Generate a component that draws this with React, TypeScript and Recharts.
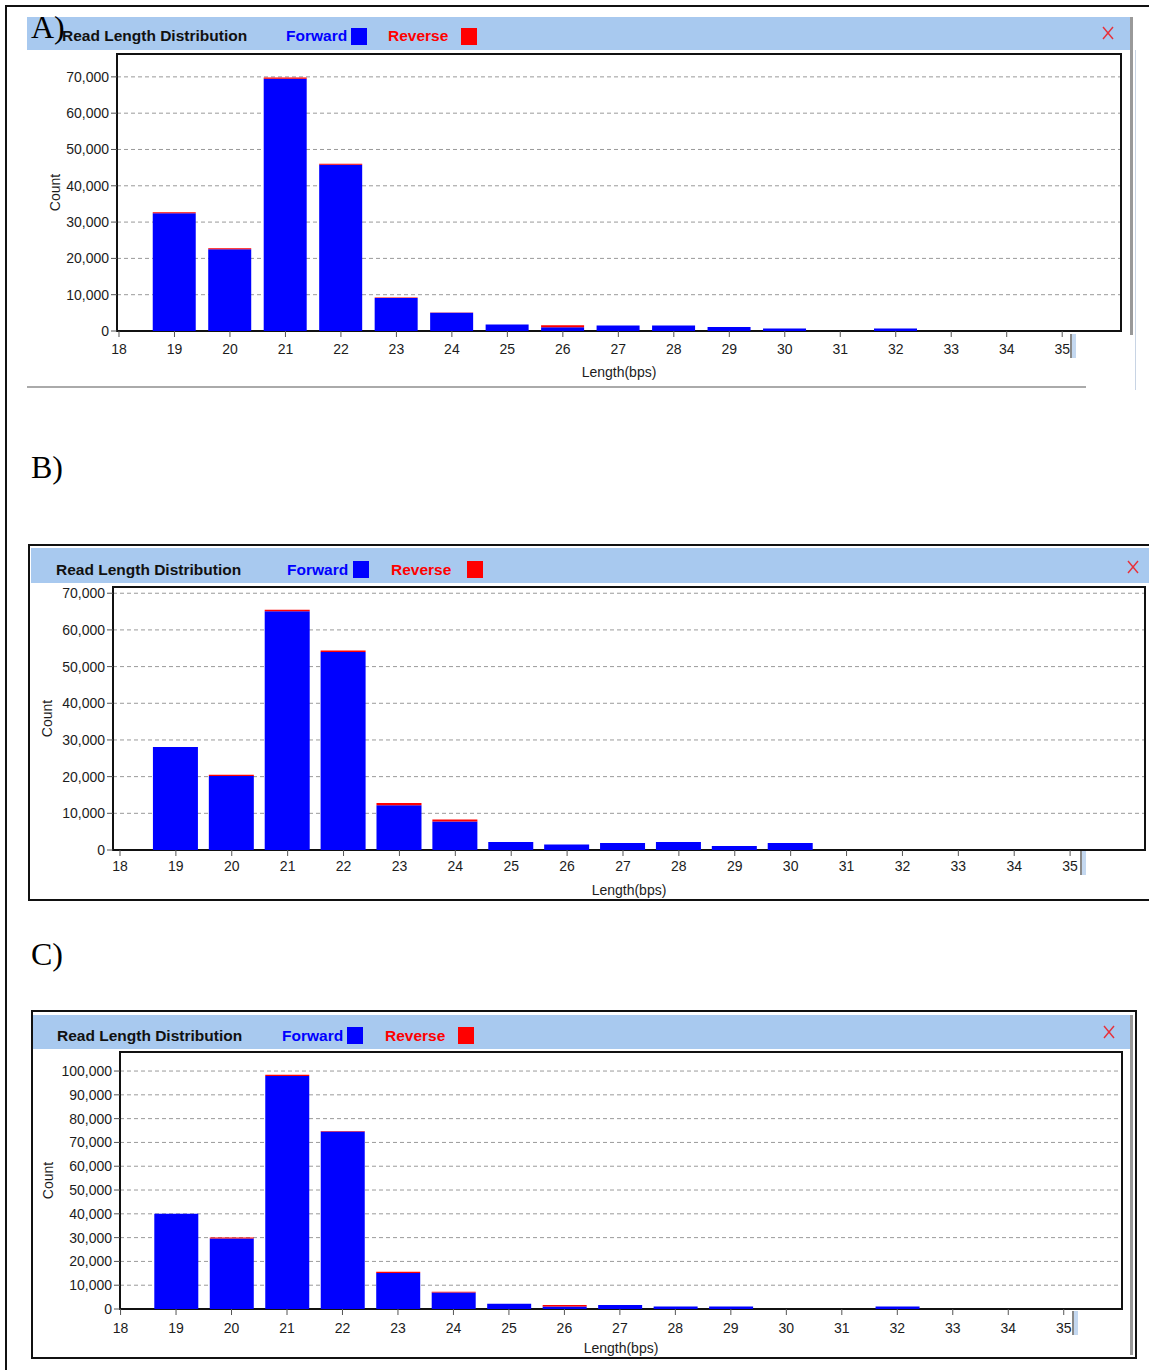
import React from 'react'
import { BarChart, Bar, XAxis, YAxis, CartesianGrid, ReferenceArea } from 'recharts'

// read lengths on the x axis
const lengths = [18, 19, 20, 21, 22, 23, 24, 25, 26, 27, 28, 29, 30, 31, 32, 33, 34, 35]

// panel A
const forwardA = [0, 32400, 22500, 69500, 45800, 9100, 5000, 1800, 1000, 1500, 1500, 1100, 700, 0, 700, 0, 0, 0]
const reverseA = [0, 300, 300, 300, 300, 100, 100, 0, 600, 0, 0, 0, 0, 0, 0, 0, 0, 0]

// panel B
const forwardB = [0, 28100, 20200, 65100, 54000, 12200, 7800, 2200, 1500, 1900, 2200, 1100, 1900, 0, 0, 0, 0, 0]
const reverseB = [0, 0, 300, 400, 400, 600, 500, 0, 0, 0, 0, 0, 0, 0, 0, 0, 0, 0]

// panel C
const forwardC = [0, 40000, 29600, 97900, 74600, 15100, 6900, 2200, 1100, 1700, 1100, 1100, 0, 0, 1100, 0, 0, 0]
const reverseC = [0, 0, 400, 500, 200, 600, 400, 0, 600, 0, 0, 0, 0, 0, 0, 0, 0, 0]

const countTicks70k = [0, 10000, 20000, 30000, 40000, 50000, 60000, 70000]
const countTicks100k = [0, 10000, 20000, 30000, 40000, 50000, 60000, 70000, 80000, 90000, 100000]

// small ticks every 0.2 bps between the labelled ones
const minorTicks = lengths.flatMap((l) => [l + 0.2, l + 0.4, l + 0.6, l + 0.8])

const FONT = '"Liberation Sans", Arial, sans-serif'
const BAND = '#a8c9ef'
const TXT = '#1c1c1c'

const toRows = (fwd: number[], rev: number[]) =>
  lengths.map((length, i) => ({ length, forward: fwd[i], reverse: rev[i] }))

type PanelProps = {
  data: { length: number; forward: number; reverse: number }[]
  yTicks: number[]
  yMax: number
  xDomain: [number, number]
  barSize: number
  plot: { left: number; top: number; right: number; bottom: number }
  countOffset: number
  lengthOffset: number
  tickGap: number
}

function Panel({ data, yTicks, yMax, xDomain, barSize, plot, countOffset, lengthOffset, tickGap }: PanelProps) {
  const YW = 90
  const XH = 54
  const width = YW + (plot.right - plot.left) + 2
  const height = 2 + (plot.bottom - plot.top) + XH
  return (
    <div style={{ position: 'absolute', left: plot.left - YW, top: plot.top - 2 }}>
      <BarChart width={width} height={height} data={data} margin={{ top: 2, right: 2, bottom: 0, left: 0 }}>
        <CartesianGrid vertical={false} stroke='#9a9a9a' strokeDasharray='4 3' />
        <XAxis
          xAxisId='minor'
          type='number'
          dataKey='length'
          domain={xDomain}
          ticks={minorTicks}
          allowDataOverflow
          height={0}
          tick={() => <g />}
          tickSize={4}
          axisLine={false}
          tickLine={{ stroke: '#333' }}
          interval={0}
        />
        <XAxis
          type='number'
          dataKey='length'
          domain={xDomain}
          ticks={lengths}
          allowDataOverflow
          interval={0}
          height={XH}
          tickSize={6}
          tickMargin={tickGap}
          axisLine={false}
          tickLine={{ stroke: '#555' }}
          tick={{ fontSize: 14, fill: TXT, fontFamily: FONT }}
          label={{
            value: 'Length(bps)',
            position: 'insideBottom',
            offset: lengthOffset,
            fontSize: 14,
            fill: TXT,
            fontFamily: FONT,
          }}
        />
        <YAxis
          type='number'
          domain={[0, yMax]}
          ticks={yTicks}
          allowDataOverflow
          interval={0}
          width={YW}
          tickSize={6}
          tickMargin={2}
          axisLine={false}
          tickLine={{ stroke: '#555' }}
          tick={{ fontSize: 14, fill: TXT, fontFamily: FONT }}
          tickFormatter={(v: number) => v.toLocaleString('en-US')}
          label={{
            value: 'Count',
            angle: -90,
            position: 'insideLeft',
            offset: countOffset,
            fontSize: 14,
            fill: TXT,
            fontFamily: FONT,
            style: { textAnchor: 'middle' },
          }}
        />
        <Bar dataKey='forward' stackId='s' fill='#0000ff' barSize={barSize} isAnimationActive={false} />
        <Bar dataKey='reverse' stackId='s' fill='#ff0000' barSize={barSize} isAnimationActive={false} />
        <ReferenceArea
          x1={xDomain[0]}
          x2={xDomain[1]}
          y1={0}
          y2={yMax}
          fill='none'
          fillOpacity={0}
          stroke='#111'
          strokeWidth={2}
          ifOverflow='visible'
        />
      </BarChart>
    </div>
  )
}

type HeaderProps = {
  band: { left: number; top: number; width: number; height: number }
  textTop: number
  titleX: number
  fwdX: number
  fwdBox: number
  revX: number
  revBox: number
  boxTop: number
  closeX: number
  closeY: number
}

function Header({ band, textTop, titleX, fwdX, fwdBox, revX, revBox, boxTop, closeX, closeY }: HeaderProps) {
  const txt: React.CSSProperties = {
    position: 'absolute',
    top: textTop,
    height: 20,
    lineHeight: '20px',
    fontSize: 15.5,
    fontWeight: 'bold',
    fontFamily: FONT,
    whiteSpace: 'nowrap',
  }
  const box = (x: number, c: string): React.CSSProperties => ({
    position: 'absolute',
    left: x,
    top: boxTop,
    width: 16,
    height: 17,
    background: c,
  })
  return (
    <>
      <div style={{ position: 'absolute', ...band, background: BAND }} />
      <div style={{ ...txt, left: titleX, color: '#111' }}>Read Length Distribution</div>
      <div style={{ ...txt, left: fwdX, color: '#0000ff' }}>Forward</div>
      <div style={box(fwdBox, '#0000ff')} />
      <div style={{ ...txt, left: revX, color: '#ff0000' }}>Reverse</div>
      <div style={box(revBox, '#ff0000')} />
      <svg style={{ position: 'absolute', left: closeX - 6, top: closeY - 7 }} width={12} height={14}>
        <line x1={1} y1={1} x2={11} y2={13} stroke='#e8303a' strokeWidth={1.4} />
        <line x1={11} y1={1} x2={1} y2={13} stroke='#e8303a' strokeWidth={1.4} />
      </svg>
    </>
  )
}

const letter = (t: string, top: number): React.ReactNode => (
  <div
    style={{
      position: 'absolute',
      left: 31,
      top,
      fontFamily: '"Liberation Serif", "Times New Roman", serif',
      fontSize: 32,
      lineHeight: '36px',
      color: '#000',
    }}
  >
    {t}
  </div>
)

const scrollMark = (x: number, top: number): React.ReactNode => (
  <>
    <div style={{ position: 'absolute', left: x, top, width: 2, height: 24, background: '#8a8a8a' }} />
    <div style={{ position: 'absolute', left: x + 2, top, width: 4, height: 24, background: '#c4d8f0' }} />
  </>
)

export default function App() {
  return (
    <div
      style={{
        position: 'absolute',
        left: 0,
        top: 0,
        width: 1149,
        height: 1370,
        overflow: 'hidden',
        background: '#fff',
      }}
    >
      {/* page frame */}
      <div style={{ position: 'absolute', left: 5, top: 5, width: 1160, height: 1380, border: '2px solid #111' }} />

      {/* A */}
      <div style={{ position: 'absolute', left: 1130, top: 17, width: 3, height: 318, background: '#999' }} />
      <div style={{ position: 'absolute', left: 1135, top: 50, width: 1, height: 340, background: '#c8d4e4' }} />
      <div style={{ position: 'absolute', left: 27, top: 386, width: 1059, height: 2, background: '#aaa' }} />
      <Header
        band={{ left: 27, top: 17, width: 1103, height: 33 }}
        textTop={26}
        titleX={62}
        fwdX={286}
        fwdBox={351}
        revX={388}
        revBox={461}
        boxTop={28}
        closeX={1108}
        closeY={33}
      />
      <Panel
        data={toRows(forwardA, reverseA)}
        yTicks={countTicks70k}
        yMax={76300}
        xDomain={[17.964, 36.06]}
        barSize={43}
        plot={{ left: 117, top: 54, right: 1121, bottom: 331 }}
        countOffset={28}
        lengthOffset={8}
        tickGap={7}
      />
      {scrollMark(1070, 334)}
      {letter('A)', 9)}

      {/* B */}
      {letter('B)', 449)}
      <div style={{ position: 'absolute', left: 28, top: 544, width: 1140, height: 353, border: '2px solid #111' }} />
      <Header
        band={{ left: 31, top: 548, width: 1118, height: 35 }}
        textTop={560}
        titleX={56}
        fwdX={287}
        fwdBox={353}
        revX={391}
        revBox={467}
        boxTop={561}
        closeX={1133}
        closeY={567}
      />
      <Panel
        data={toRows(forwardB, reverseB)}
        yTicks={countTicks70k}
        yMax={71700}
        xDomain={[17.875, 36.34]}
        barSize={45}
        plot={{ left: 113, top: 587, right: 1145, bottom: 850 }}
        countOffset={24}
        lengthOffset={9}
        tickGap={5}
      />
      {scrollMark(1080, 851)}

      {/* C */}
      {letter('C)', 936)}
      <div style={{ position: 'absolute', left: 31, top: 1010, width: 1102, height: 345, border: '2px solid #111' }} />
      <div style={{ position: 'absolute', left: 1130, top: 1015, width: 3, height: 340, background: '#999' }} />
      <Header
        band={{ left: 33, top: 1015, width: 1097, height: 34 }}
        textTop={1026}
        titleX={57}
        fwdX={282}
        fwdBox={347}
        revX={385}
        revBox={458}
        boxTop={1027}
        closeX={1109}
        closeY={1032}
      />
      <Panel
        data={toRows(forwardC, reverseC)}
        yTicks={countTicks100k}
        yMax={108000}
        xDomain={[17.99, 36.05]}
        barSize={44}
        plot={{ left: 120, top: 1052, right: 1122, bottom: 1309 }}
        countOffset={18}
        lengthOffset={10}
        tickGap={8}
      />
      {scrollMark(1072, 1311)}
    </div>
  )
}
